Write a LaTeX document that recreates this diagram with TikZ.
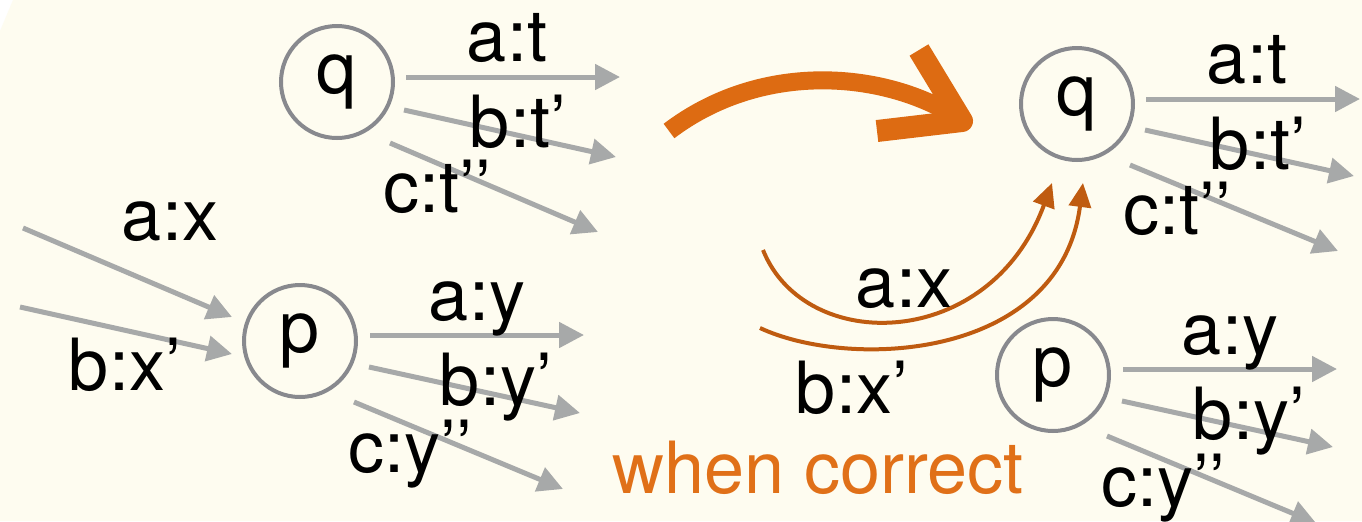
\documentclass[tikz,border=0pt]{standalone}
\usepackage{fontspec}
\setmainfont{TeX Gyre Heros}
\usetikzlibrary{arrows.meta}
\definecolor{cream}{HTML}{FEFCF0}
\definecolor{edgegray}{HTML}{A7A9A9}
\definecolor{circgray}{HTML}{88898E}
\definecolor{bigorange}{HTML}{DD6B12}
\definecolor{thinorange}{HTML}{BF5B10}
\definecolor{txtorange}{HTML}{E07018}
\tikzset{
  state/.style={circle, draw=circgray, line width=2pt, inner sep=0pt, minimum size=56pt, font=\fontsize{36}{40}\selectfont},
  lbl/.style={anchor=base, inner sep=0pt, font=\fontsize{36}{40}\selectfont},
  tr/.style={draw=edgegray, line width=2.5pt, -{Triangle[length=12.5pt,width=12.5pt]}},
  proj/.style={draw=thinorange, line width=2pt, -{Triangle[length=12pt,width=11pt]}},
}
\begin{document}
\begin{tikzpicture}[x=0.5pt,y=-0.5pt]
\useasboundingbox (0,0) rectangle (1362,521);
\fill[white] (0,0) rectangle (1362,521);
\fill[cream] (13,0) -- (1362,0) -- (1362,521) -- (0,521) -- (0,31) -- cycle;

% ---------- left q ----------
\node[state] (lq) at (337,82) {q};
\coordinate (lqa0) at (406,77);  \coordinate (lqa1) at (620,77);
\coordinate (lqb0) at (404,110); \coordinate (lqb1) at (616,157);
\coordinate (lqc0) at (390,143); \coordinate (lqc1) at (598,232);
\draw[tr] (lqa0) -- (lqa1);
\draw[tr] (lqb0) -- (lqb1);
\draw[tr] (lqc0) -- (lqc1);
\node[lbl] (lqat) at (507,61) {a:t};
\node[lbl] (lqbt) at (518,147) {b:t’};
\node[lbl] (lqct) at (437,212) {c:t’’};

% ---------- left p ----------
\node[state] (lp) at (300,341) {p};
\coordinate (lpi0) at (23,228);  \coordinate (lpi1) at (232,317);
\coordinate (lpj0) at (20,307);  \coordinate (lpj1) at (232,354);
\draw[tr] (lpi0) -- (lpi1);
\draw[tr] (lpj0) -- (lpj1);
\node[lbl] (lpax) at (170,240) {a:x};
\node[lbl] (lpbx) at (125,390) {b:x’};
\coordinate (lpa0) at (370,335); \coordinate (lpa1) at (584,335);
\coordinate (lpb0) at (369,367); \coordinate (lpb1) at (580,413);
\coordinate (lpc0) at (354,402); \coordinate (lpc1) at (563,489);
\draw[tr] (lpa0) -- (lpa1);
\draw[tr] (lpb0) -- (lpb1);
\draw[tr] (lpc0) -- (lpc1);
\node[lbl] (lpay) at (477,320) {a:y};
\node[lbl] (lpby) at (496,405) {b:y’};
\node[lbl] (lpcy) at (410,472) {c:y’’};

% ---------- big arrow ----------
\draw[bigorange, line width=9pt] (669,131) .. controls (760,62) and (880,70) .. (955,116);
\draw[bigorange, line width=11pt, line join=round] (919,50) -- (962,121) -- (877,131);

% ---------- right q ----------
\node[state] (rq) at (1077,104) {q};
\coordinate (rqa0) at (1146,99);  \coordinate (rqa1) at (1360,99);
\coordinate (rqb0) at (1145,130); \coordinate (rqb1) at (1354,176);
\coordinate (rqc0) at (1130,165); \coordinate (rqc1) at (1338,251);
\draw[tr] (rqa0) -- (rqa1);
\draw[tr] (rqb0) -- (rqb1);
\draw[tr] (rqc0) -- (rqc1);
\node[lbl] (rqat) at (1247,83) {a:t};
\node[lbl] (rqbt) at (1258,169) {b:t’};
\node[lbl] (rqct) at (1177,234) {c:t’’};

% ---------- right p ----------
\node[state] (rp) at (1053,375) {p};
\coordinate (rpa0) at (1123,369); \coordinate (rpa1) at (1337,369);
\coordinate (rpb0) at (1122,401); \coordinate (rpb1) at (1333,447);
\coordinate (rpc0) at (1107,436); \coordinate (rpc1) at (1316,523);
\draw[tr] (rpa0) -- (rpa1);
\draw[tr] (rpb0) -- (rpb1);
\draw[tr] (rpc0) -- (rpc1);
\node[lbl] (rpay) at (1230,354) {a:y};
\node[lbl] (rpby) at (1249,439) {b:y’};
\node[lbl] (rpcy) at (1163,506) {c:y’’};

% ---------- projected arrows ----------
\coordinate (ax0) at (763,250); \coordinate (ax1) at (1052,183);
\coordinate (bx0) at (760,328); \coordinate (bx1) at (1083,183);
\draw[proj] (ax0) .. controls (805,355) and (990,352) .. (ax1);
\draw[proj] (bx0) .. controls (850,370) and (1060,360) .. (bx1);
\node[lbl] (max) at (904,307) {a:x};
\node[lbl] (mbx) at (852,413) {b:x’};
\node[lbl, text=txtorange] (when) at (818,493) {when correct};
\end{tikzpicture}
\end{document}
